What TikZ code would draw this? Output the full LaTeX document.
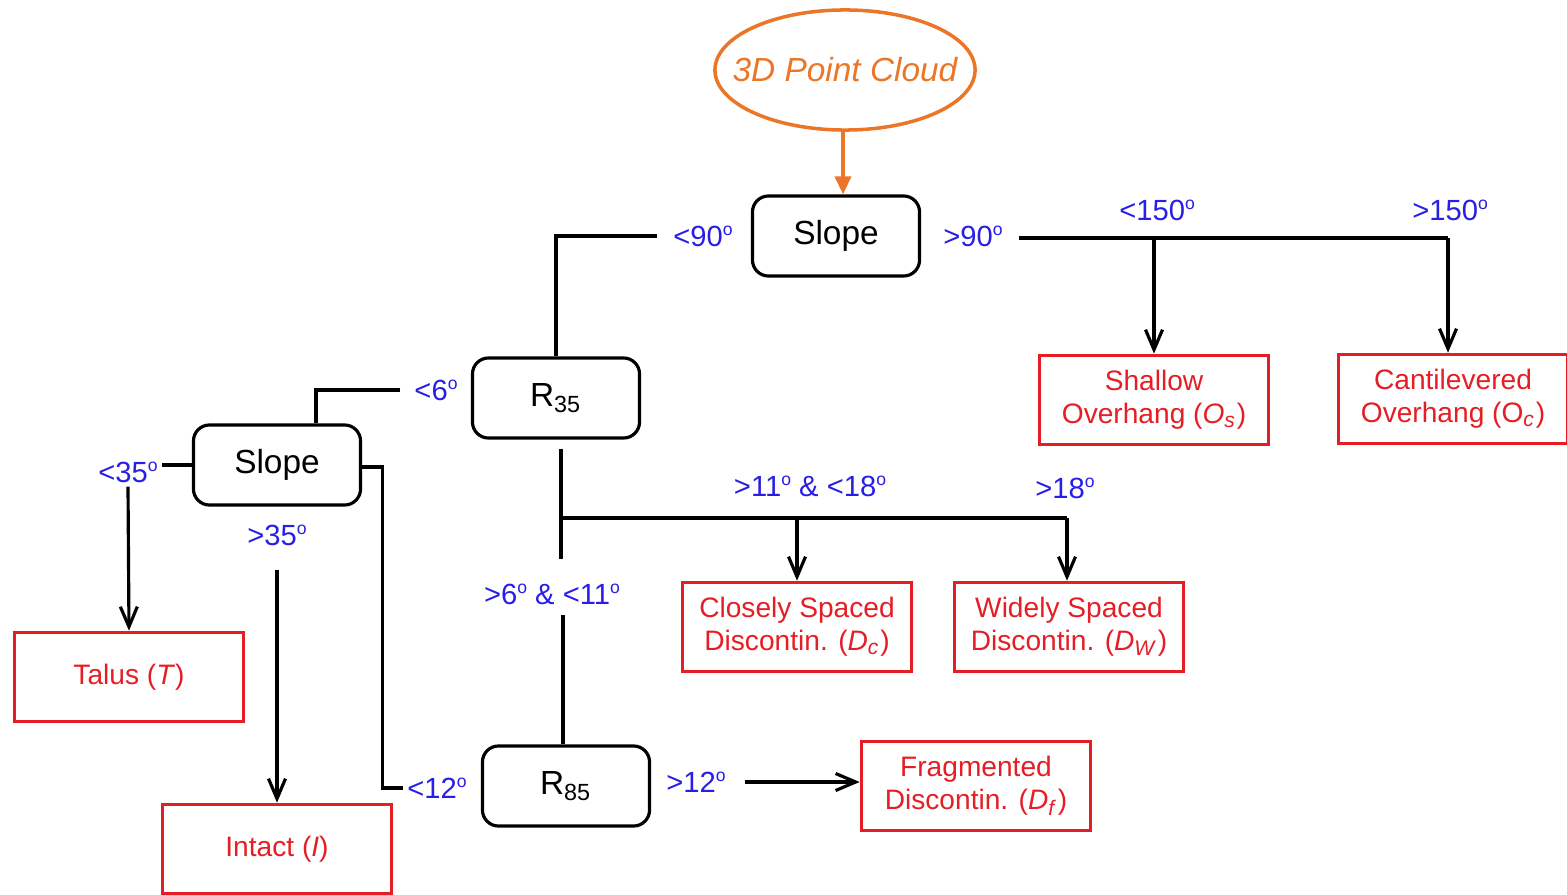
\documentclass[tikz,border=0pt]{standalone}
\usepackage{fontspec}
\setmainfont{Liberation Sans}
\usetikzlibrary{arrows.meta}
\definecolor{cloudorange}{RGB}{236,118,40}
\definecolor{classred}{RGB}{228,30,36}
\definecolor{rulenblue}{RGB}{40,30,230}
\newcommand{\dg}{\raisebox{0.7ex}{\fontsize{5}{5}\selectfont o}}

\begin{document}
\begin{tikzpicture}[x=0.01cm,y=-0.01cm,
  test/.style={draw, line width=0.9pt, rounded corners=0.16cm, minimum width=1.67cm,
    minimum height=0.8cm, font=\fontsize{9.5}{11}\selectfont},
  classbox/.style={draw=classred, line width=1pt, text=classred, minimum width=2.29cm,
    minimum height=0.89cm, align=center, font=\fontsize{8}{9.5}\selectfont},
  rule/.style={text=rulenblue, inner sep=1pt, font=\fontsize{8.3}{9}\selectfont},
  link/.style={line width=0.9pt},
  arr/.style={link, -{Straight Barb[length=0.2cm,width=0.17cm,line width=0.9pt]}}]
\useasboundingbox (0,0) rectangle (1567,894);
% source
\node[text=cloudorange, font=\fontsize{9.5}{11}\selectfont\itshape] (cloud) at (845,70) {3D Point Cloud};
\draw[cloudorange, line width=1pt] (cloud.center) ellipse [x radius=1.3cm, y radius=0.6cm];
\coordinate (cloudbase) at (843,130);
% tests
\node[test] (slopetop) at (836,236) {Slope};
\node[test] (rthirtyfive) at (556,398) {R\textsubscript{35}};
\node[test] (slopeleft) at (277,465) {Slope};
\node[test] (reightyfive) at (566,786) {R\textsubscript{85}};
% classes
\node[classbox] (shallow) at (1154,400) {Shallow\\Overhang (\textit{O}\textsubscript{\textit{s}})};
\node[classbox] (canti) at (1453,399) {Cantilevered\\Overhang (O\textsubscript{\textit{c}})};
\node[classbox] (closely) at (797,627) {Closely Spaced\\Discontin. (\textit{D}\textsubscript{\textit{c}})};
\node[classbox] (widely) at (1069,627) {Widely Spaced\\Discontin. (\textit{D}\textsubscript{\textit{W}})};
\node[classbox] (talus) at (129,677) {Talus (\textit{T})};
\node[classbox] (intact) at (277,849) {Intact (\textit{I})};
\node[classbox] (frag) at (976,786) {Fragmented\\Discontin. (\textit{D}\textsubscript{\textit{f}})};
% thresholds
\node[rule] (lt90) at (703,236) {<90\dg};
\node[rule] (gt90) at (973,236) {>90\dg};
\node[rule] (lt150) at (1157,210) {<150\dg};
\node[rule] (gt150) at (1450,210) {>150\dg};
\node[rule] (lt6) at (436,390) {<6\dg};
\node[rule] (lt35) at (128,472) {<35\dg};
\node[rule] (gt35) at (277,535) {>35\dg};
\node[rule] (elevtoeight) at (810,486) {>11\dg{} \& <18\dg};
\node[rule] (gt18) at (1065,488) {>18\dg};
\node[rule] (sixtoeleven) at (552,594) {>6\dg{} \& <11\dg};
\node[rule] (lt12) at (437,788) {<12\dg};
\node[rule] (gt12) at (696,782) {>12\dg};
\coordinate (overend) at (1448,238);
\coordinate (discstart) at (561,518);
\coordinate (discend) at (1067,518);
% connectors
\draw[line width=1pt, cloudorange, -{Triangle[length=0.18cm,width=0.16cm]}] (cloudbase) -- (cloudbase |- slopetop.north);
\draw[link] ([xshift=-0.12cm]lt90.west) -| (rthirtyfive.north);
\draw[link] ([xshift=0.12cm]gt90.east |- overend) -- (overend);
\draw[arr] (shallow.north |- overend) -- (shallow.north);
\draw[arr] (overend) -- (overend |- canti.north);
\draw[link] ([yshift=-0.09cm]discstart |- rthirtyfive.south) -- ([yshift=0.2cm]discstart |- sixtoeleven.north);
\draw[link] (discstart) -- (discend);
\draw[arr] (closely.north |- discstart) -- (closely.north);
\draw[arr] (discend) -- (discend |- widely.north);
\draw[link] ([xshift=0.02cm,yshift=-0.06cm]discstart |- sixtoeleven.south) -- ([xshift=0.02cm]discstart |- reightyfive.north);
\draw[link] ([xshift=-0.1cm]lt6.west) -| ([xshift=0.39cm]slopeleft.north);
\draw[link] (slopeleft.west) -- (slopeleft.west -| lt35.east);
\draw[arr] (lt35.south) -- (talus.north);
\draw[arr] ([yshift=-0.2cm]gt35.south) -- (intact.north);
\draw[link] ([yshift=-0.02cm]slopeleft.east) -- ++(20,0) |- (lt12.west);
\draw[arr] ([xshift=0.15cm]gt12.east) -- (gt12.east -| frag.west);
\end{tikzpicture}
\end{document}
